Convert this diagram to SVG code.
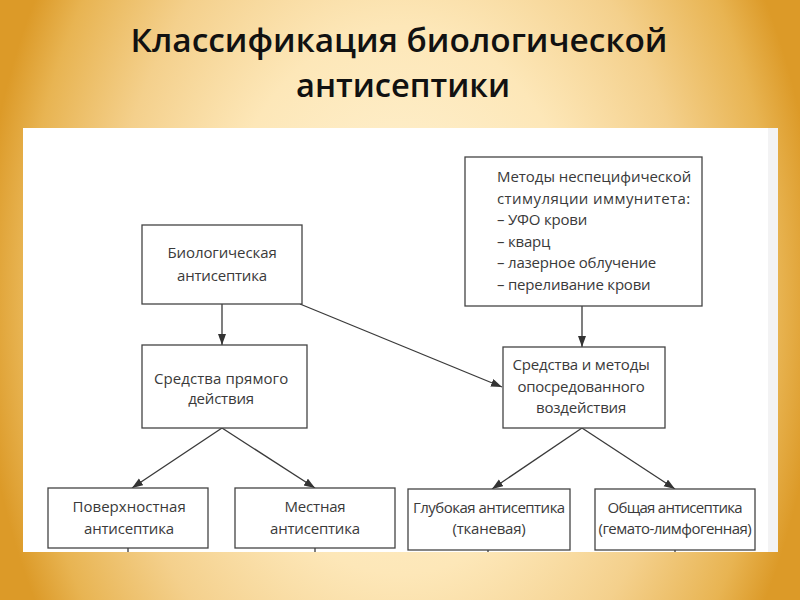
<svg xmlns="http://www.w3.org/2000/svg" width="800" height="600" viewBox="0 0 800 600">
  <defs>
    <radialGradient id="bg" gradientUnits="userSpaceOnUse" cx="400" cy="300" r="420" gradientTransform="translate(400 300) scale(1 1.45) translate(-400 -300)">
      <stop offset="0" stop-color="#fff5da"/>
      <stop offset="0.45" stop-color="#fde7b8"/>
      <stop offset="0.7" stop-color="#f4d08c"/>
      <stop offset="0.9" stop-color="#e8b452"/>
      <stop offset="1" stop-color="#dc9a28"/>
    </radialGradient>
    <marker id="arr" markerWidth="12" markerHeight="10" refX="11" refY="4" orient="auto" markerUnits="userSpaceOnUse">
      <path d="M0,0 L11,4 L0,8 Z" fill="#333"/>
    </marker>
    <style>
      .box { fill: #ffffff; stroke: #444; stroke-width: 1.3; }
      .lbl { font-family: "Open Sans", "Liberation Sans", sans-serif; font-size: 15px; letter-spacing: -0.2px; fill: #3a3a3a; }
      .c { text-anchor: middle; }
      .con { stroke: #3a3a3a; stroke-width: 1.3; fill: none; }
      .title { font-family: "Open Sans", "Liberation Sans", sans-serif; font-weight: 600; font-size: 32px; fill: #111; text-anchor: middle; }
    </style>
  </defs>

  <rect x="0" y="0" width="800" height="600" fill="url(#bg)"/>

  <g id="title">
    <text class="title" x="399" y="52" textLength="537" lengthAdjust="spacingAndGlyphs">Классификация биологической</text>
    <text class="title" x="403" y="97" textLength="214" lengthAdjust="spacingAndGlyphs">антисептики</text>
  </g>

  <rect x="23" y="128" width="755" height="424" fill="#ffffff"/>
  <rect x="768" y="128" width="10" height="424" fill="#f3f3f4"/>

  <g id="connectors">
    <line class="con" x1="222" y1="304" x2="222" y2="345" marker-end="url(#arr)"/>
    <line class="con" x1="300" y1="304" x2="502" y2="387" marker-end="url(#arr)"/>
    <line class="con" x1="582" y1="306" x2="582" y2="347" marker-end="url(#arr)"/>
    <line class="con" x1="222" y1="428" x2="132" y2="488" marker-end="url(#arr)"/>
    <line class="con" x1="222" y1="428" x2="315" y2="488" marker-end="url(#arr)"/>
    <line class="con" x1="582" y1="428" x2="492" y2="489" marker-end="url(#arr)"/>
    <line class="con" x1="582" y1="428" x2="675" y2="489" marker-end="url(#arr)"/>
    <line class="con" x1="128" y1="548" x2="128" y2="552"/>
    <line class="con" x1="315" y1="548" x2="315" y2="552"/>
    <line class="con" x1="488" y1="550" x2="488" y2="552"/>
    <line class="con" x1="675" y1="550" x2="675" y2="552"/>
  </g>

  <g id="bio">
    <rect class="box" x="142" y="225" width="160" height="79"/>
    <text class="lbl c" x="222" y="258" textLength="109">Биологическая</text>
    <text class="lbl c" x="222" y="281">антисептика</text>
  </g>

  <g id="methods">
    <rect class="box" x="465" y="157" width="237" height="149"/>
    <text class="lbl" x="497" y="182" textLength="194">Методы неспецифической</text>
    <text class="lbl" x="497" y="204" textLength="193">стимуляции иммунитета:</text>
    <text class="lbl" x="497" y="225">– УФО крови</text>
    <text class="lbl" x="497" y="247">– кварц</text>
    <text class="lbl" x="497" y="268">– лазерное облучение</text>
    <text class="lbl" x="497" y="290">– переливание крови</text>
  </g>

  <g id="direct">
    <rect class="box" x="142" y="345" width="165" height="83"/>
    <text class="lbl c" x="221" y="384" textLength="134">Средства прямого</text>
    <text class="lbl c" x="221" y="404">действия</text>
  </g>

  <g id="mediated">
    <rect class="box" x="503" y="347" width="162" height="81"/>
    <text class="lbl c" x="581" y="370" textLength="137">Средства и методы</text>
    <text class="lbl c" x="581" y="392">опосредованного</text>
    <text class="lbl c" x="581" y="413">воздействия</text>
  </g>

  <g id="surface">
    <rect class="box" x="48" y="488" width="160" height="60"/>
    <text class="lbl c" x="129" y="512" textLength="113">Поверхностная</text>
    <text class="lbl c" x="129" y="534">антисептика</text>
  </g>

  <g id="local">
    <rect class="box" x="235" y="488" width="160" height="60"/>
    <text class="lbl c" x="315" y="512">Местная</text>
    <text class="lbl c" x="315" y="534">антисептика</text>
  </g>

  <g id="deep">
    <rect class="box" x="408" y="489" width="162" height="61"/>
    <text class="lbl c" x="489" y="513" textLength="152">Глубокая антисептика</text>
    <text class="lbl c" x="489" y="534">(тканевая)</text>
  </g>

  <g id="general">
    <rect class="box" x="595" y="489" width="160" height="61"/>
    <text class="lbl c" x="675" y="513" textLength="135">Общая антисептика</text>
    <text class="lbl c" x="675" y="534" textLength="153">(гемато-лимфогенная)</text>
  </g>
</svg>
